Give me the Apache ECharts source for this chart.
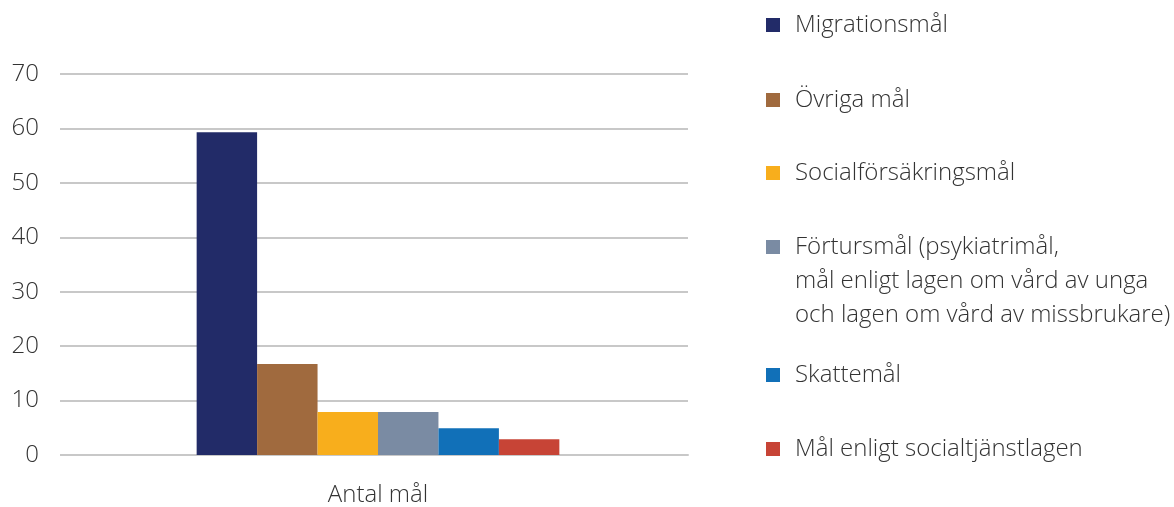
<!DOCTYPE html>
<html>
<head>
<meta charset="utf-8">
<script src="https://cdn.jsdelivr.net/npm/echarts@6/dist/echarts.min.js"></script>
<style>
  html, body { margin: 0; padding: 0; background: #fff; }
  #chart { width: 1174px; height: 507px; }
</style>
</head>
<body>
<div id="chart"></div>
<script>
// data
var categories = ['Antal mål'];
var seriesNames = [
  'Migrationsmål',
  'Övriga mål',
  'Socialförsäkringsmål',
  'Förtursmål (psykiatrimål,\nmål enligt lagen om vård av unga\noch lagen om vård av missbrukare)',
  'Skattemål',
  'Mål enligt socialtjänstlagen'
];
var seriesValues = [59.3, 16.7, 7.9, 7.9, 4.9, 2.9];
var yTicks = [0, 10, 20, 30, 40, 50, 60, 70];

var colors = ['#222b68', '#a06a3e', '#f8ae1c', '#7a8ba3', '#1170b8', '#c74436'];
var legendCenters = [25, 100, 173, 247, 375, 449];

var font = '"Open Sans", "DejaVu Sans", sans-serif';
var chart = echarts.init(document.getElementById('chart'));

var series = seriesNames.map(function (name, i) {
  return {
    name: name,
    type: 'bar',
    data: [seriesValues[i]],
    barGap: 0,
    barCategoryGap: '41.5%',
    itemStyle: { color: colors[i] },
    emphasis: { disabled: true }
  };
});

// square sitting at the top of a 3-line-tall box, so the icon lines up with the first line
var tallIcon = 'path://M0,0L0.01,0M0,10L14,10L14,24L0,24ZM0,102L0.01,102';

// one legend per item so each can sit where the picture has it
var legends = seriesNames.map(function (name, i) {
  var multi = i === 3;
  return {
    data: [name],
    left: 766,
    top: legendCenters[i] - 17,
    padding: 0,
    itemWidth: 14,
    itemHeight: multi ? 102 : 14,
    icon: multi ? tallIcon : 'rect',
    selectedMode: false,
    textStyle: {
      fontFamily: font,
      fontSize: 24,
      fontWeight: 300,
      color: '#333',
      lineHeight: 34,
      padding: [0, 0, 0, 10]
    }
  };
});

var option = {
  animation: false,
  color: colors,
  legend: legends,
  grid: { left: 68, right: 486, top: 74, bottom: 52, containLabel: false },
  xAxis: {
    type: 'category',
    data: categories,
    axisLine: { show: true, lineStyle: { color: '#c8c8c8', width: 2 } },
    axisTick: { show: false },
    axisLabel: { margin: 28, fontFamily: font, fontSize: 24, fontWeight: 300, color: '#333' }
  },
  yAxis: {
    type: 'value',
    min: yTicks[0],
    max: yTicks[yTicks.length - 1],
    interval: 10,
    axisLine: { show: false },
    axisTick: { show: true, length: 8, lineStyle: { color: '#c8c8c8', width: 2 } },
    splitLine: { lineStyle: { color: '#c8c8c8', width: 2 } },
    axisLabel: { margin: 29, fontFamily: font, fontSize: 24, fontWeight: 300, color: '#333' }
  },
  series: series
};

chart.setOption(option);
</script>
</body>
</html>
